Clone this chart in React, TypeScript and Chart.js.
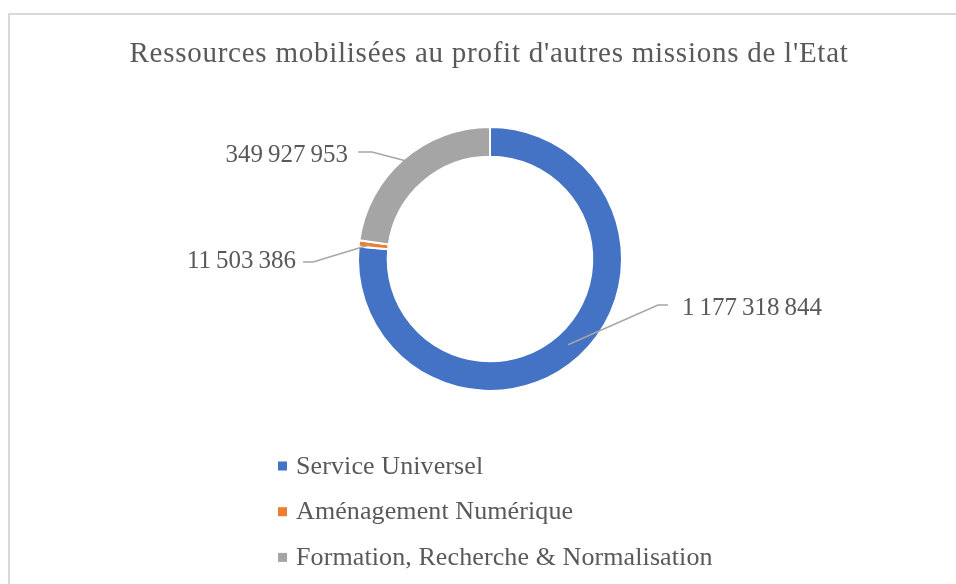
import React, { useEffect, useRef } from "react";
import { Chart, registerables } from "chart.js";

Chart.register(...registerables);

// ---- data ----
const TITLE = "Ressources mobilisées au profit d'autres missions de l'Etat";
const categories = [
  "Service Universel",
  "Aménagement Numérique",
  "Formation, Recherche & Normalisation",
];
const values = [1177318844, 11503386, 349927953];
const colors = ["#4472C4", "#ED7D31", "#A5A5A5"];

// ---- styles ----
const TEXT_COLOR = "#595959";
const LINE_COLOR = "#A6A6A6";
const FONT = "'Liberation Serif', 'Times New Roman', serif";

// data label placement, relative to the doughnut centre
const labelLayout = [
  { textDx: 192, baseDy: 56, align: "left", startDx: 178, elbowDx: 168, lineDy: 46, radiusFrac: 0.46 },
  { textDx: -194, baseDy: 9, align: "right", startDx: -187, elbowDx: -177, lineDy: 3, radiusFrac: 0.63 },
  { textDx: -142, baseDy: -97, align: "right", startDx: -132, elbowDx: -118, lineDy: -107, radiusFrac: 0.95 },
];

function formatFr(n: number): string {
  return String(n).replace(/\B(?=(\d{3})+(?!\d))/g, "\u2009");
}

const decorPlugin = {
  id: "decor",
  afterDraw(chart: any) {
    const ctx: CanvasRenderingContext2D = chart.ctx;
    ctx.save();

    // title
    ctx.fillStyle = TEXT_COLOR;
    ctx.font = `29px ${FONT}`;
    (ctx as any).letterSpacing = "0.75px";
    ctx.textAlign = "center";
    ctx.textBaseline = "alphabetic";
    ctx.fillText(TITLE, 489, 62);

    // data labels with leader lines
    (ctx as any).letterSpacing = "0px";
    ctx.font = `25px ${FONT}`;
    const meta = chart.getDatasetMeta(0);
    meta.data.forEach((arc: any, i: number) => {
      const L = labelLayout[i];
      const p = arc.getProps(["x", "y", "startAngle", "endAngle", "innerRadius", "outerRadius"], true);
      const mid = (p.startAngle + p.endAngle) / 2;
      const r = p.innerRadius + (p.outerRadius - p.innerRadius) * L.radiusFrac;
      const ax = p.x + Math.cos(mid) * r;
      const ay = p.y + Math.sin(mid) * r;
      ctx.strokeStyle = LINE_COLOR;
      ctx.lineWidth = 1.5;
      ctx.beginPath();
      ctx.moveTo(ax, ay);
      ctx.lineTo(p.x + L.elbowDx, p.y + L.lineDy);
      ctx.lineTo(p.x + L.startDx, p.y + L.lineDy);
      ctx.stroke();
      ctx.fillStyle = TEXT_COLOR;
      ctx.textAlign = L.align as CanvasTextAlign;
      ctx.fillText(formatFr(chart.data.datasets[0].data[i]), p.x + L.textDx, p.y + L.baseDy);
    });

    // legend (vertical list under the doughnut)
    ctx.font = `26px ${FONT}`;
    (ctx as any).letterSpacing = "0.1px";
    ctx.textAlign = "left";
    const labels: string[] = chart.data.labels;
    labels.forEach((lab, i) => {
      const cy = 466 + i * 45.7;
      ctx.fillStyle = chart.data.datasets[0].backgroundColor[i];
      ctx.fillRect(278, cy - 4.5, 9, 9);
      ctx.fillStyle = TEXT_COLOR;
      ctx.fillText(lab, 296, cy + 7.5);
    });

    ctx.restore();
  },
};

export default function App() {
  const canvasRef = useRef<HTMLCanvasElement | null>(null);

  useEffect(() => {
    if (!canvasRef.current) return;
    const chart = new Chart(canvasRef.current, {
      type: "doughnut",
      data: {
        labels: categories,
        datasets: [
          {
            data: values,
            backgroundColor: colors,
            borderColor: "#FFFFFF",
            borderWidth: 2,
          },
        ],
      },
      options: {
        responsive: false,
        animation: false,
        cutout: "77.5%",
        layout: { padding: { left: 357, top: 126, right: 333, bottom: 192 } },
        plugins: {
          legend: { display: false },
          title: { display: false },
          tooltip: { enabled: false },
        },
      },
      plugins: [decorPlugin],
    });
    return () => chart.destroy();
  }, []);

  return (
    <div style={{ position: "absolute", left: 0, top: 0, width: 956, height: 584, background: "#FFFFFF", overflow: "hidden" }}>
      <div
        style={{
          position: "absolute",
          left: 8,
          top: 13,
          right: -4,
          bottom: -4,
          borderTop: "2px solid #D9D9D9",
          borderLeft: "2px solid #D9D9D9",
        }}
      />
      <canvas ref={canvasRef} width={956} height={584} style={{ position: "absolute", left: 0, top: 0 }} />
    </div>
  );
}
